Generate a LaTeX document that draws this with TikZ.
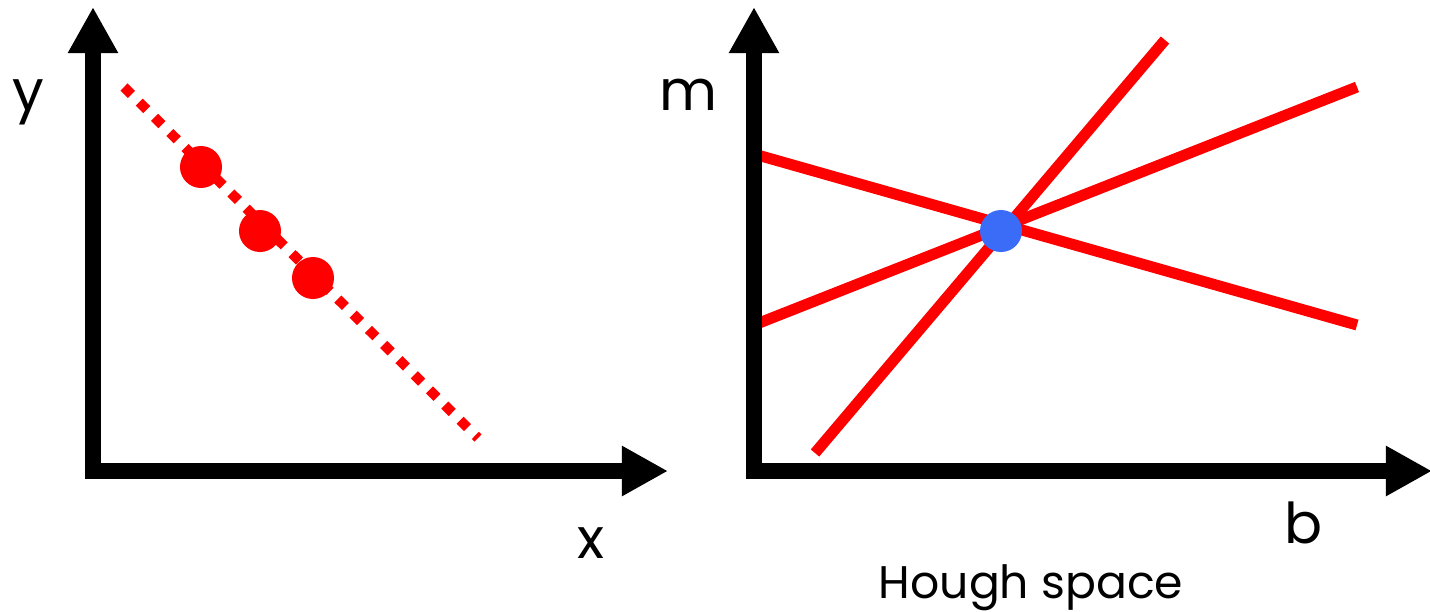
\documentclass[tikz,border=0pt]{standalone}
\usepackage{fontspec}
\setmainfont{Poppins}
\usepackage{tikz}
\usetikzlibrary{arrows.meta}
\definecolor{houghblue}{RGB}{58,108,248}

\begin{document}
\begin{tikzpicture}[x=0.01cm, y=-0.01cm,
    every node/.style={font=\fontsize{16}{18}\selectfont, inner sep=0pt},
    axis/.style={line width=0.16cm, -{Triangle[length=0.46cm, width=0.47cm]}},
    vote/.style={red, line width=0.11cm},
    sample/.style={circle, fill=red, minimum size=0.42cm}]
  \useasboundingbox (0,0) rectangle (1430,611);

  % Image space: points on a dotted line
  \coordinate (fitA) at (124,87);
  \coordinate (fitB) at (478,438);
  \draw[red, line width=0.1cm, dash pattern=on 0.105cm off 0.11cm] (fitA) -- (fitB);
  \node[sample] (p1) at (201,167) {};
  \node[sample] (p2) at (260,231) {};
  \node[sample] (p3) at (313,278) {};

  % Image space axes
  \coordinate (yBot) at (93,479);
  \coordinate (yTop) at (93,7);
  \coordinate (xLeft) at (85,471);
  \coordinate (xRight) at (668,471);
  \draw[axis] (yBot) -- (yTop);
  \draw[axis] (xLeft) -- (xRight);
  \node[anchor=base] (ylab) at (28,110) {y};
  \node[anchor=base] (xlab) at (591,558) {x};

  % Hough space: one line per point, meeting in one vote
  \coordinate (h1a) at (754,154);
  \coordinate (h1b) at (1357,325);
  \coordinate (h2a) at (754,325);
  \coordinate (h2b) at (1357,87);
  \coordinate (h3a) at (815,453);
  \coordinate (h3b) at (1165,40);
  \draw[vote] (h1a) -- (h1b);
  \draw[vote] (h2a) -- (h2b);
  \draw[vote] (h3a) -- (h3b);
  \node[circle, fill=houghblue, minimum size=0.42cm] (peak) at (1001,231) {};

  % Hough space axes
  \coordinate (mBot) at (754,479);
  \coordinate (mTop) at (754,7);
  \coordinate (bLeft) at (746,471);
  \coordinate (bRight) at (1432,471);
  \draw[axis] (mBot) -- (mTop);
  \draw[axis] (bLeft) -- (bRight);
  \node[anchor=base] (mlab) at (688,110) {m};
  \node[anchor=base] (blab) at (1304,543) {b};
  \node[anchor=base, font=\fontsize{13}{15}\selectfont] (title) at (1031,598) {Hough space};
\end{tikzpicture}
\end{document}
